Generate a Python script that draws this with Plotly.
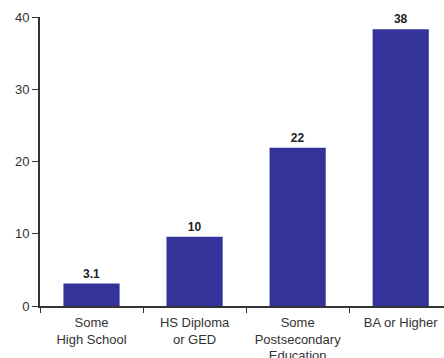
import plotly.graph_objects as go

categories = ["Some<br>High School", "HS Diploma<br>or GED", "Some<br>Postsecondary<br>Education", "BA or Higher"]
values = [3.1, 9.6, 21.9, 38.3]
labels = ["3.1", "10", "22", "38"]

fig = go.Figure(go.Bar(
    x=categories, y=values, text=labels, textposition="outside",
    marker=dict(color="#333399", line=dict(width=0)),
    width=0.545, cliponaxis=False,
    textfont=dict(family="Liberation Sans", size=12, color="#222222", weight="bold"),
))

fig.update_layout(
    width=444, height=358,
    margin=dict(l=40, r=0, t=17, b=52),
    paper_bgcolor="white", plot_bgcolor="white",
    font=dict(family="Liberation Sans", size=12, color="#333333"),
    showlegend=False,
    bargap=0.455,
)
fig.update_xaxes(
    type="category", range=[-0.5, 3.42], tickson="boundaries",
    ticks="outside", ticklen=5, tickcolor="#333333", tickwidth=1,
    showline=True, linecolor="#333333", linewidth=2, showgrid=False,
    tickfont=dict(size=13, color="#333333"), ticklabelstandoff=3,
    automargin=False,
)
fig.update_yaxes(
    range=[0, 40], tickvals=[0, 10, 20, 30, 40],
    ticks="outside", ticklen=6, tickcolor="#333333", tickwidth=1,
    showline=True, linecolor="#333333", linewidth=2, showgrid=False,
    zeroline=False, tickfont=dict(size=13, color="#333333"),
    automargin=False,
)

fig.write_html("out.html")
